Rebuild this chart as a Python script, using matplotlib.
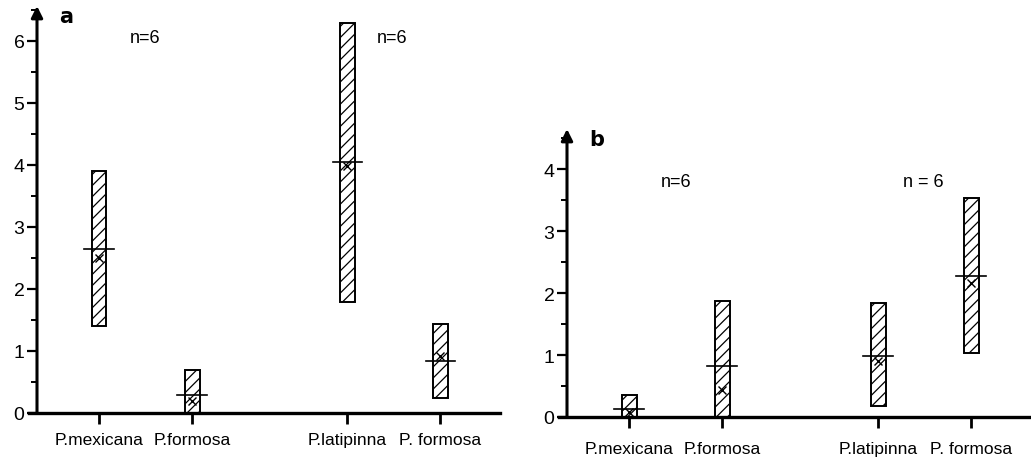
import matplotlib
matplotlib.use("Agg")
import matplotlib.pyplot as plt
import numpy as np

plt.rcParams['font.family'] = ['Liberation Sans', 'DejaVu Sans']
plt.rcParams['hatch.linewidth'] = 0.9

categories = ["P.mexicana", "P.formosa", "P.latipinna", "P. formosa"]
positions = [0, 1, 2.67, 3.67]

# Panel a
a_low = [1.40, 0.0, 1.79, 0.24]
a_high = [3.90, 0.69, 6.29, 1.44]
a_mean = [2.65, 0.29, 4.05, 0.84]
a_x = [2.50, 0.19, 3.98, 0.92]

# Panel b
b_low = [0.0, 0.0, 0.18, 1.03]
b_high = [0.35, 1.88, 1.84, 3.53]
b_mean = [0.13, 0.82, 0.98, 2.27]
b_x = [0.08, 0.44, 0.90, 2.16]

n_labels = ["n=6", "n=6"]
b_n_labels = ["n=6", "n = 6"]

W, H = 1031, 460
fig = plt.figure(figsize=(W / 100, H / 100), dpi=100)

def px_axes(left, right, y0, ytop):
    return fig.add_axes([left / W, (H - y0) / H, (right - left) / W, (y0 - ytop) / H])

ax_a = px_axes(37, 500, 414, 7)
ax_b = px_axes(567, 1031, 418, 130)

def draw_panel(ax, low, high, mean, xm, ytop, yticks, letter, nlabels, ny, xpad):
    bw = 0.16
    for p, lo, hi, m, x in zip(positions, low, high, mean, xm):
        ax.bar(p, hi - lo, bottom=lo, width=bw, facecolor='white', edgecolor='black',
               hatch='///', linewidth=1.4, zorder=2)
        ax.plot([p - 0.16, p + 0.16], [m, m], color='black', lw=1.2, zorder=3)
        ax.plot([p], [x], marker='x', color='black', ms=6, mew=1.0, zorder=3)
    ax.set_xlim(-0.667, 4.31)
    ax.set_ylim(0, ytop)
    for s in ['top', 'right', 'left', 'bottom']:
        ax.spines[s].set_visible(False)
    ax.axhline(0, xmin=-0.018, xmax=1.0, color='black', lw=2.4, clip_on=False, zorder=4)
    ax.annotate('', xy=(0, 1), xytext=(0, 0), xycoords='axes fraction',
                arrowprops=dict(arrowstyle='-|>', lw=2.2, color='black',
                                mutation_scale=17, shrinkA=0, shrinkB=0))
    ax.set_yticks(yticks)
    ax.set_yticklabels([str(t) for t in yticks])
    ax.set_yticks(np.arange(0.5, yticks[-1] + 0.6, 1.0), minor=True)
    ax.tick_params(axis='y', which='major', direction='out', length=7, width=1.6,
                   labelsize=14, pad=2)
    ax.tick_params(axis='y', which='minor', direction='out', length=4, width=1.4)
    ax.set_xticks(positions)
    ax.set_xticklabels(categories)
    ax.tick_params(axis='x', direction='out', length=8, width=2, labelsize=12.5, pad=xpad)
    ax.text(0.048, 1.0, letter, transform=ax.transAxes, fontsize=15, fontweight='bold',
            family='DejaVu Sans', va='top', ha='left')
    for (xp, t) in zip([0.5, 3.15], nlabels):
        ax.text(xp, ny, t, fontsize=13, ha='center', va='center')

draw_panel(ax_a, a_low, a_high, a_mean, a_x, 6.56, [0, 1, 2, 3, 4, 5, 6], 'a', n_labels, 6.05, 6)
draw_panel(ax_b, b_low, b_high, b_mean, b_x, 4.65, [0, 1, 2, 3, 4], 'b', b_n_labels, 3.8, 9)

fig.savefig('out.png', dpi=100)
